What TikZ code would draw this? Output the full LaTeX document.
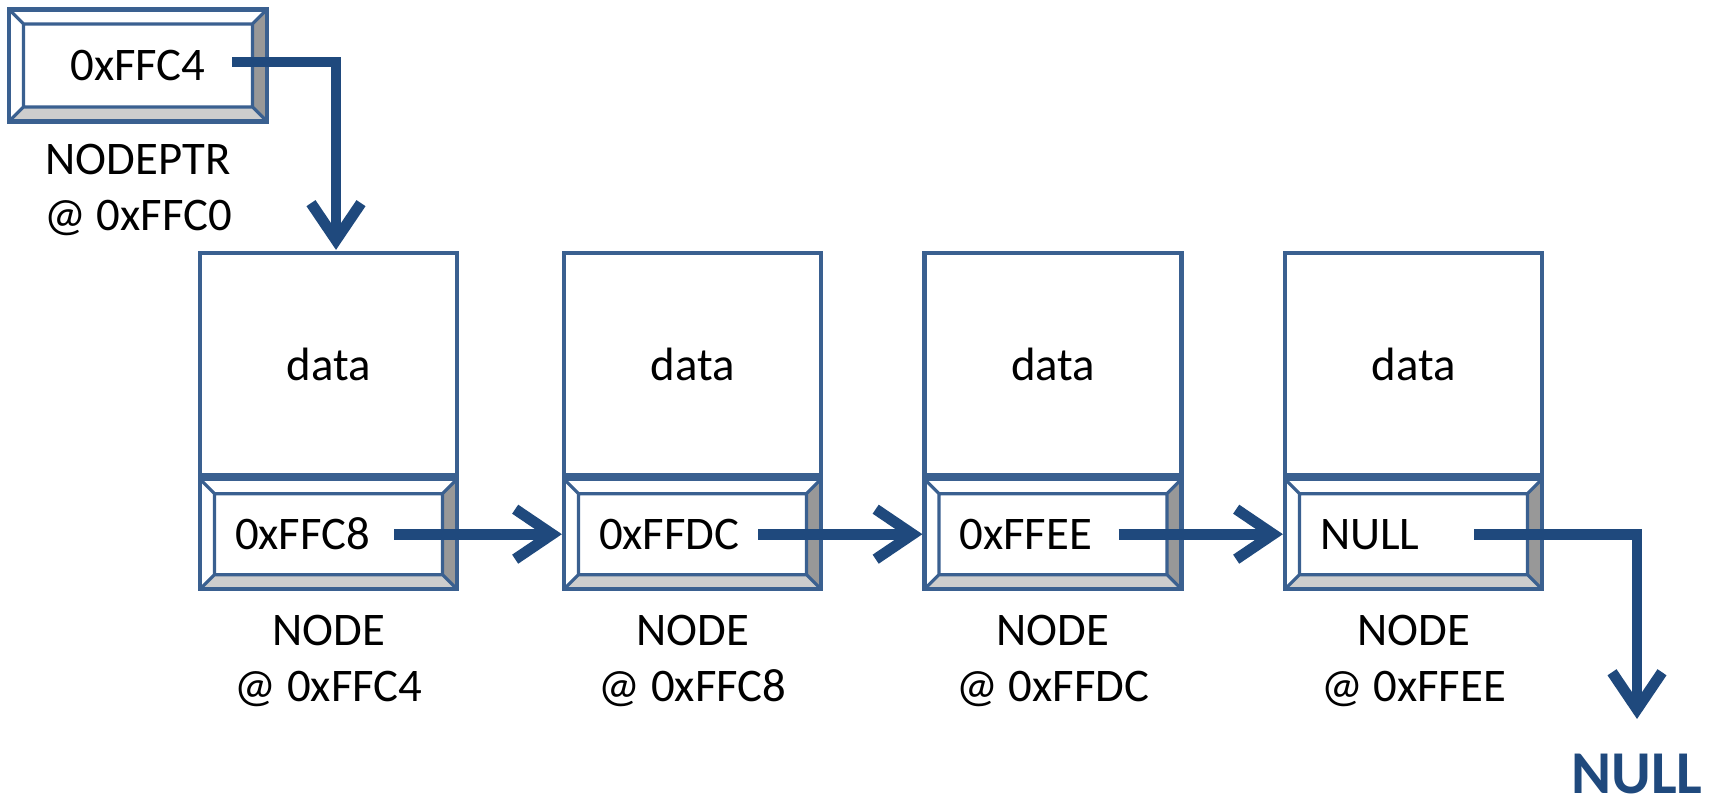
\documentclass[tikz,border=0pt]{standalone}
\usepackage{fontspec}
\setmainfont{Carlito}
\usepackage{tikz}
\usetikzlibrary{arrows.meta, calc, positioning}
\definecolor{boxblue}{RGB}{58,96,144}
\definecolor{linkblue}{RGB}{31,73,125}
\definecolor{bevdark}{RGB}{152,152,152}
\definecolor{bevlight}{RGB}{205,205,205}
\newcommand{\bvl}{0.145}

\tikzset{
  databox/.style={draw=boxblue, line width=1.2pt, minimum width=2.57cm, minimum height=2.22cm, inner sep=0pt},
  ptrfield/.style={draw=boxblue, line width=1.2pt, minimum width=2.57cm, minimum height=1.10cm, inner sep=0pt,
    path picture={
      \path (path picture bounding box.north west) coordinate (bA)
            (path picture bounding box.north east) coordinate (bB)
            (path picture bounding box.south east) coordinate (bC)
            (path picture bounding box.south west) coordinate (bD);
      \path ($(bA)+(\bvl,-\bvl)$) coordinate (iA) ($(bB)+(-\bvl,-\bvl)$) coordinate (iB)
            ($(bC)+(-\bvl,\bvl)$) coordinate (iC) ($(bD)+(\bvl,\bvl)$) coordinate (iD);
      \fill[bevdark] (bB) -- (bC) -- (iC) -- (iB) -- cycle;
      \fill[bevlight] (bC) -- (bD) -- (iD) -- (iC) -- cycle;
      \draw[boxblue, line width=0.9pt] (iA) rectangle (iC) (bA) -- (iA) (bB) -- (iB) (bC) -- (iC) (bD) -- (iD);
    }},
  leftfield/.style={ptrfield, text width=1.87cm, inner xsep=0.35cm, align=left},
  caption/.style={align=center, inner sep=0pt},
  link/.style={draw=linkblue, line width=3.1pt, -{Straight Barb[length=0.37cm, width=0.50cm]}}
}

\begin{document}
\begin{tikzpicture}
  \useasboundingbox (0,0) rectangle (17.21,8.01);
  \begin{scope}
  \tikzstyle{every node}=[font=\fontsize{13.3}{15.9}\selectfont]
  % head pointer
  \node[ptrfield, minimum width=2.58cm, minimum height=1.12cm] (ptr) at (1.38,7.355) {0xFFC4};
  \node[caption, below=0.20cm of ptr] (ptrlbl) {NODEPTR\\@ 0xFFC0};

  % list nodes
  \node[databox] (d1) at (3.285,4.37) {data};
  \node[databox] (d2) at (6.925,4.37) {data};
  \node[databox] (d3) at (10.53,4.37) {data};
  \node[databox] (d4) at (14.135,4.37) {data};
  \node[leftfield, below=0pt of d1] (p1) {0xFFC8};
  \node[leftfield, below=0pt of d2] (p2) {0xFFDC};
  \node[leftfield, below=0pt of d3] (p3) {0xFFEE};
  \node[leftfield, below=0pt of d4] (p4) {NULL};
  \node[caption, below=0.23cm of p1] (l1) {NODE\\@ 0xFFC4};
  \node[caption, below=0.23cm of p2] (l2) {NODE\\@ 0xFFC8};
  \node[caption, below=0.23cm of p3] (l3) {NODE\\@ 0xFFDC};
  \node[caption, below=0.23cm of p4] (l4) {NODE\\@ 0xFFEE};

  \node[inner sep=0pt, anchor=north, text=linkblue, font=\fontsize{17.3}{20}\selectfont\bfseries] (nul) at (16.37,0.48) {NULL};
  \end{scope}

  % links
  \draw[link] ($(ptr.east)+(-0.37,0.035)$) -| ($(d1.north)+(0.075,0.01)$);
  \draw[link] ($(p1.east)+(-0.65,0)$) -- (p2.west);
  \draw[link] ($(p2.east)+(-0.65,0)$) -- (p3.west);
  \draw[link] ($(p3.east)+(-0.65,0)$) -- (p4.west);
  \draw[link] ($(p4.east)+(-0.70,0)$) -| ($(nul.north)+(0,0.34)$);
\end{tikzpicture}
\end{document}
